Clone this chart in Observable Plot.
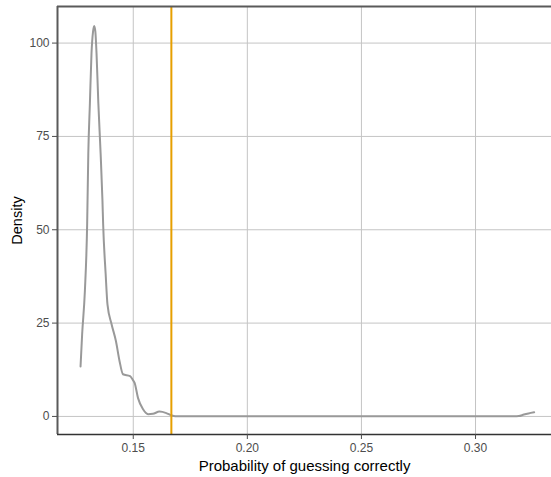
<!DOCTYPE html>
<html>
<head>
<meta charset="utf-8">
<script src="https://cdn.jsdelivr.net/npm/d3@7"></script>
<script src="https://cdn.jsdelivr.net/npm/@observablehq/plot@0.6"></script>
<style>
  html, body { margin: 0; padding: 0; background: #ffffff; }
  #chart svg { display: block; }
</style>
</head>
<body>
<div id="chart"></div>
<script>
// Density curve of the probability of guessing correctly
const probability = [
  0.1269, 0.1276, 0.1288, 0.1298, 0.1303, 0.1310, 0.1317, 0.1324, 0.1329,
  0.1334, 0.1339, 0.1347, 0.1357, 0.1365, 0.1368, 0.1379, 0.1387, 0.1405, 0.1424,
  0.1440, 0.1455, 0.1486, 0.1497, 0.1506, 0.1521, 0.1543, 0.1565, 0.1586,
  0.1615, 0.1645, 0.1667, 0.1684, 0.1750, 0.2000, 0.2500, 0.3000, 0.3170,
  0.3190, 0.3212, 0.3232, 0.3257
];
const density = [
  13.4, 22.0, 33.6, 51.6, 70.4, 83.9, 97.2, 103.2, 104.6,
  103.0, 97.3, 83.9, 70.4, 57.8, 51.6, 38.2, 30.0, 24.7, 20.2,
  14.8, 11.3, 10.8, 9.9, 9.0, 4.9, 1.9, 0.6, 0.7,
  1.3, 0.9, 0.3, 0.05, 0.02, 0.02, 0.02, 0.02, 0.03,
  0.1, 0.5, 0.8, 1.1
];
const chanceLevel = [0.1667];
const xTicks = [0.15, 0.20, 0.25, 0.30];
const xTickLabels = ["0.15", "0.20", "0.25", "0.30"];
const yTicks = [0, 25, 50, 75, 100];
const yTickLabels = ["0", "25", "50", "75", "100"];
const xTitle = "Probability of guessing correctly";
const yTitle = "Density";

const xDomain = [0.1168, 0.3333];
const yDomain = [-4.84, 109.8];

const curve = probability.map((p, i) => ({p, d: density[i]}));

const chart = Plot.plot({
  width: 551,
  height: 477,
  marginLeft: 57,
  marginRight: 0,
  marginTop: 6,
  marginBottom: 43,
  style: {fontFamily: "'Liberation Sans', Arial, sans-serif", fontSize: "12px", background: "#ffffff"},
  x: {domain: xDomain},
  y: {domain: yDomain},
  marks: [
    Plot.gridX(xTicks, {stroke: "#c4c4c4", strokeOpacity: 1, strokeWidth: 1}),
    Plot.gridY(yTicks, {stroke: "#c4c4c4", strokeOpacity: 1, strokeWidth: 1}),
    Plot.line(curve, {x: "p", y: "d", stroke: "#999999", strokeWidth: 2, curve: "monotone-x"}),
    Plot.ruleX(chanceLevel, {stroke: "#E69F00", strokeWidth: 2}),
    Plot.ruleX([xDomain[0]], {stroke: "#5a5a5a", strokeWidth: 2}),
    Plot.ruleY([yDomain[1]], {stroke: "#5a5a5a", strokeWidth: 2}),
    Plot.ruleY([yDomain[0]], {stroke: "#333333", strokeWidth: 1.5}),
    Plot.axisX(xTicks, {tickSize: 5, tickPadding: 4, color: "#4d4d4d", tickFormat: (d, i) => xTickLabels[i], label: null, fontSize: 12}),
    Plot.axisY(yTicks, {tickSize: 5, tickPadding: 3, color: "#4d4d4d", tickFormat: (d, i) => yTickLabels[i], label: null, fontSize: 12}),
    Plot.text([xTitle], {frameAnchor: "bottom", dy: 32, text: d => d, fill: "#000000", fontSize: 15, lineAnchor: "middle", textAnchor: "middle"}),
    Plot.text([yTitle], {frameAnchor: "left", dx: -40, rotate: -90, text: d => d, fill: "#000000", fontSize: 14.5, lineAnchor: "middle", textAnchor: "middle"})
  ]
});
document.getElementById("chart").appendChild(chart);
</script>
</body>
</html>
